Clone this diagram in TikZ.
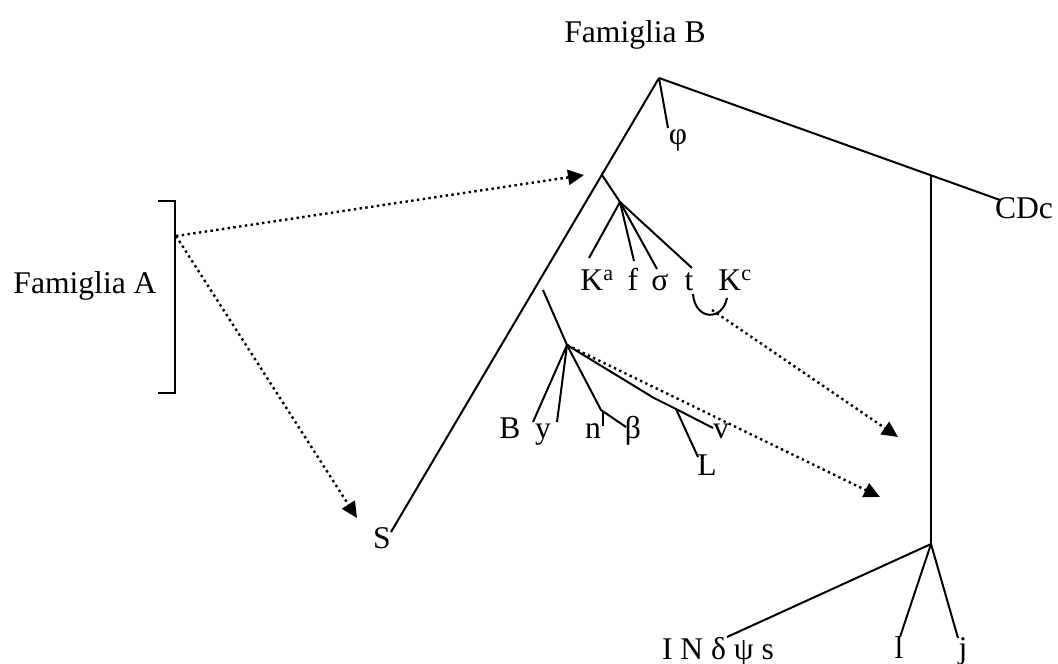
\documentclass[tikz,border=0pt]{standalone}
\usepackage{fontspec}
\setmainfont{Liberation Serif}
\usetikzlibrary{arrows.meta}
\tikzset{
  lab/.style={font=\fontsize{31.6pt}{38pt}\selectfont, inner sep=0pt, anchor=base},
  edge/.style={line width=2pt},
  dotarrow/.style={line width=2.4pt, dash pattern=on 2.4pt off 3.4pt,
    -{Triangle[length=16pt,width=15pt]}},
}
\begin{document}
\begin{tikzpicture}[x=1pt,y=-1pt]
\useasboundingbox (0,0) rectangle (1058,664);
% labels
\node[lab] (FB) at (635,42) {Famiglia B};
\node[lab] (FA) at (85,293) {Famiglia A};
\node[lab] (phi) at (678,144) {φ};
\node[lab] (CDc) at (1024,218) {CDc};
\node[lab] (Ka) at (597,290) {K\textsuperscript{a}};
\node[lab] (f) at (633,290) {f};
\node[lab] (sigma) at (660,290) {σ};
\node[lab] (t) at (689,290) {t};
\node[lab] (Kc) at (735,290) {K\textsuperscript{c}};
\node[lab] (B) at (510,438) {B};
\node[lab] (y) at (543,438) {y};
\node[lab] (n) at (593,438) {n};
\node[lab] (beta) at (633,438) {β};
\node[lab] (v) at (721,438) {v};
\node[lab] (L) at (707,475) {L};
\node[lab] (S) at (382,548) {S};
\node[lab] (INds) at (718,659) {I N δ ψ s};
\node[lab] (l) at (899,658) {l};
\node[lab] (j) at (963,658) {j};
% junctions
\coordinate (root) at (659,78);
\coordinate (sA) at (602,175);
\coordinate (kj) at (620,202);
\coordinate (rj) at (931,176);
\coordinate (bj) at (931,544);
\coordinate (lt) at (543,290);
\coordinate (lj) at (567,345);
\coordinate (nb) at (601,410);
\coordinate (vb) at (654,398);
\coordinate (Lj) at (676,409);
\coordinate (fa) at (176,236);
% line ends
\coordinate (Se) at (391,532);
\coordinate (phie) at (668,128);
\coordinate (CDce) at (1000,200);
\coordinate (Kae) at (589,258);
\coordinate (fe) at (634,261);
\coordinate (sige) at (657,269);
\coordinate (te) at (692,268);
\coordinate (Be) at (533,422);
\coordinate (ye) at (557,422);
\coordinate (betae) at (626,427);
\coordinate (tick1) at (603,411);
\coordinate (tick2) at (603,426);
\coordinate (ve) at (713,428);
\coordinate (Le) at (698,457);
\coordinate (INe) at (727,637);
\coordinate (le) at (900,637);
\coordinate (je) at (958,638);
\coordinate (arcA) at (693,294);
\coordinate (arcB) at (727,298);
\coordinate (arcS) at (712,310);
\coordinate (tip1) at (584,175);
\coordinate (tip2) at (357,518);
\coordinate (tip3) at (898,437);
\coordinate (tip4) at (880,497);
% bracket
\draw[edge] (158,201) -- (175,201) -- (175,393) -- (158,393);
% tree B
\draw[edge] (root) -- (Se);
\draw[edge] (root) -- (phie);
\draw[edge] (root) -- (CDce);
\draw[edge] (rj) -- (bj);
\draw[edge] (bj) -- (INe);
\draw[edge] (bj) -- (le);
\draw[edge] (bj) -- (je);
\draw[edge] (sA) -- (kj);
\draw[edge] (kj) -- (Kae);
\draw[edge] (kj) -- (fe);
\draw[edge] (kj) -- (sige);
\draw[edge] (kj) -- (te);
\draw[edge] (arcA) .. controls (695,320) and (722,322) .. (arcB);
\draw[edge] (lt) -- (lj);
\draw[edge] (lj) -- (Be);
\draw[edge] (lj) -- (ye);
\draw[edge] (lj) -- (nb) -- (betae);
\draw[edge] (tick1) -- (tick2);
\draw[edge] (lj) -- (vb) -- (Lj) -- (ve);
\draw[edge] (Lj) -- (Le);
% dotted arrows
\draw[dotarrow] (fa) -- (tip1);
\draw[dotarrow] (fa) -- (tip2);
\draw[dotarrow] (arcS) -- (tip3);
\draw[dotarrow] (lj) -- (tip4);
\end{tikzpicture}
\end{document}
